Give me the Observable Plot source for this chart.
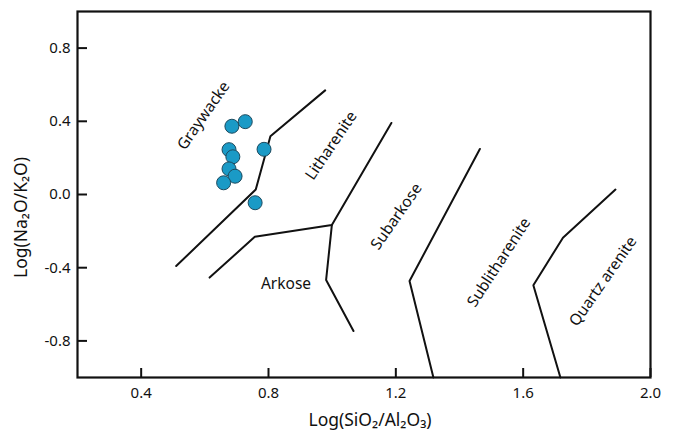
<!DOCTYPE html>
<html>
<head>
<meta charset="utf-8">
<script src="https://cdn.jsdelivr.net/npm/d3@7"></script>
<script src="https://cdn.jsdelivr.net/npm/@observablehq/plot@0.6"></script>
<style>
  html, body { margin: 0; padding: 0; background: #fff; }
  svg { display: block; }
</style>
</head>
<body>
<div id="chart"></div>
<script>
// Sample points
const sampleX = [0.685, 0.727, 0.676, 0.688, 0.676, 0.695, 0.659, 0.786, 0.758];
const sampleY = [0.373, 0.398, 0.245, 0.206, 0.140, 0.100, 0.064, 0.247, -0.045];

// Field boundary lines (Pettijohn et al. classification)
const lineA_X = [0.510, 0.760, 0.806, 0.978];
const lineA_Y = [-0.391, 0.027, 0.318, 0.569];
const lineB_X = [0.615, 0.757, 0.999, 1.186];
const lineB_Y = [-0.454, -0.231, -0.167, 0.391];
const lineB2_X = [0.999, 0.981, 1.067];
const lineB2_Y = [-0.167, -0.467, -0.746];
const lineC_X = [1.464, 1.243, 1.318];
const lineC_Y = [0.249, -0.473, -1.0];
const lineD_X = [1.890, 1.725, 1.632, 1.717];
const lineD_Y = [0.027, -0.236, -0.496, -1.0];

// Field labels
const fieldNames = ["Graywacke", "Litharenite", "Subarkose", "Sublitharenite", "Quartz arenite", "Arkose"];
const fieldX = [0.596, 0.997, 1.202, 1.524, 1.851, 0.855];
const fieldY = [0.431, 0.267, -0.120, -0.371, -0.475, -0.490];
const fieldRotate = [-55, -56, -55, -57, -55, 0];

// Axes
const xTicks = [0.4, 0.8, 1.2, 1.6, 2.0];
const yTicks = [-0.8, -0.4, 0.0, 0.4, 0.8];
const xDomain = [0.2, 2.0];
const yDomain = [-1.0, 1.0];
const xLabel = "Log(SiO\u2082/Al\u2082O\u2083)";
const yLabel = "Log(Na\u2082O/K\u2082O)";

const samples = sampleX.map((x, i) => ({x, y: sampleY[i]}));
const mk = (xs, ys, id) => xs.map((x, i) => ({x, y: ys[i], id}));
const boundaries = [
  ...mk(lineA_X, lineA_Y, "A"),
  ...mk(lineB_X, lineB_Y, "B"),
  ...mk(lineB2_X, lineB2_Y, "B2"),
  ...mk(lineC_X, lineC_Y, "C"),
  ...mk(lineD_X, lineD_Y, "D")
];
const fields = fieldNames.map((name, i) => ({name, x: fieldX[i], y: fieldY[i], r: fieldRotate[i]}));

const W = 674, H = 432;
const mL = 77, mR = 24, mT = 11, mB = 55;
const plotH = H - mT - mB, plotW = W - mL - mR;
const font = "'Noto Sans', 'Open Sans', sans-serif";

const chart = Plot.plot({
  width: W,
  height: H,
  marginLeft: mL,
  marginRight: mR,
  marginTop: mT,
  marginBottom: mB,
  style: {fontFamily: font, background: "#fff", color: "#111"},
  x: {domain: xDomain},
  y: {domain: yDomain},
  marks: [
    Plot.axisX(xTicks, {tickSize: 0, tickPadding: 10, fontSize: 15, label: null, tickFormat: d => d.toFixed(1)}),
    Plot.axisY(yTicks, {tickSize: 0, tickPadding: 7, fontSize: 15, label: null, tickFormat: d => d.toFixed(1)}),
    Plot.tickX(xTicks, {x: d => d, stroke: "#111", strokeWidth: 2, insetTop: plotH - 9}),
    Plot.tickY(yTicks, {y: d => d, stroke: "#111", strokeWidth: 2, insetRight: plotW - 10}),
    Plot.line(boundaries, {x: "x", y: "y", z: "id", stroke: "#111", strokeWidth: 2, strokeLinejoin: "miter"}),
    Plot.text(fields, {x: "x", y: "y", text: "name", rotate: "r", fontSize: 15.5, fill: "#111"}),
    Plot.dot(samples, {x: "x", y: "y", r: 7, fill: "#1a9ac6", stroke: "#1d4a5e", strokeWidth: 1}),
    Plot.frame({stroke: "#111", strokeWidth: 2.2}),
    Plot.text([xLabel], {frameAnchor: "bottom", textAnchor: "middle", lineAnchor: "middle", dx: 6, dy: 43, fontSize: 17.5, fill: "#111"}),
    Plot.text([yLabel], {frameAnchor: "left", textAnchor: "middle", lineAnchor: "middle", dx: -56, dy: 23, rotate: -90, fontSize: 17.5, fill: "#111"})
  ]
});
document.getElementById("chart").appendChild(chart);
</script>
</body>
</html>
